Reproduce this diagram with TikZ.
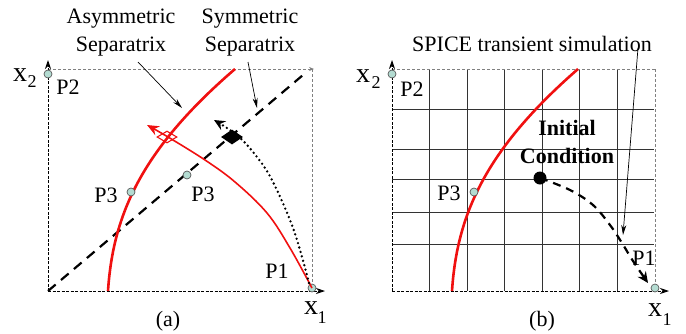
\documentclass[tikz,border=0pt]{standalone}
\usepackage{fontspec}
\setmainfont{Liberation Serif}
\usetikzlibrary{arrows.meta,shapes.geometric}
\definecolor{ptfill}{HTML}{B4DCD2}
\definecolor{sepred}{HTML}{F01010}
\begin{document}
\begin{tikzpicture}[x=1pt,y=-1pt]
\tikzset{
 lbl/.style={inner sep=0pt, font=\fontsize{22}{28}\selectfont, align=center},
 boldlbl/.style={inner sep=0pt, font=\fontsize{22}{28}\selectfont\bfseries, align=center},
 axlbl/.style={inner sep=0pt, font=\fontsize{28}{28}\selectfont},
 sublbl/.style={inner sep=0pt, font=\fontsize{18}{18}\selectfont},
 ptc/.style={circle, draw=gray!70!black, fill=ptfill, inner sep=0pt, minimum size=8pt, line width=0.7pt},
 axisline/.style={line width=0.9pt, dash pattern=on 3pt off 1.5pt, -{Stealth[length=9pt,width=6pt]}},
 borderline/.style={gray, line width=0.7pt, dash pattern=on 3pt off 2pt},
 sepcurve/.style={sepred, line width=2.6pt},
 trajcurve/.style={sepred, line width=1.6pt},
 notearrow/.style={line width=0.7pt, -{Stealth[length=10pt,width=5pt]}},
 gridline/.style={line width=1pt, black!80},
 symline/.style={line width=2.2pt, dash pattern=on 10pt off 7pt},
}
\useasboundingbox (0,0) rectangle (686,333);

% ================= panel (a) =================
\coordinate (oa) at (48,291);
\coordinate (ya) at (48,60);
\coordinate (xa) at (325,291);
\coordinate (tla) at (48,69);
\coordinate (tra) at (314,69);
\coordinate (cra) at (312,69);
\coordinate (bra) at (312,291);
\draw[borderline,-{Stealth[length=5pt,width=4pt]}] (tla) -- (tra);
\draw[borderline] (cra) -- (bra);
\draw[axisline] (oa) -- (ya);
\draw[axisline] (oa) -- (xa);

% symmetric separatrix (diagonal)
\coordinate (diagend) at (303,75);
\draw[symline] (oa) -- (diagend);

% asymmetric separatrix
\coordinate (asa) at (108,291);
\coordinate (asb) at (235,69);
\draw[sepcurve] (asa) .. controls (113,215) and (141,150) .. (asb);

% points
\node[ptc] (P2a) at (48,74) {};
\node[ptc] (P1a) at (312,288) {};

% red trajectory
\coordinate (redtip) at (147,125);
\draw[trajcurve,-{Stealth[length=12pt,width=10pt]}] plot[smooth, tension=0.6] coordinates {(P1a) (290,248) (267,213) (235,182) (205,160) (168,137) (redtip)};

% dotted trajectory
\coordinate (dottip) at (214,120);
\draw[line width=2.6pt, dash pattern=on 0pt off 4.6pt, line cap=round, -{Stealth[length=11pt,width=10pt]}] plot[smooth, tension=0.6] coordinates {(309,283) (300,250) (290,220) (272,180) (257,157) (238,136) (dottip)};

\node[ptc] (P3a) at (131,192) {};
\node[ptc] (P3d) at (187,175) {};

% diamonds
\node[diamond, draw=sepred, line width=1.1pt, minimum width=20pt, minimum height=12pt, inner sep=0pt] (rdia) at (167,137) {};
\node[diamond, fill=black, minimum width=22pt, minimum height=15pt, inner sep=0pt] (bdia) at (232,137) {};

% labels
\node[lbl] (asym) at (121,33) {Asymmetric\\Separatrix};
\node[lbl] (sym) at (250,33) {Symmetric\\Separatrix};
\coordinate (asymfrom) at (138,62);
\coordinate (asymto) at (182,108);
\coordinate (symfrom) at (248,62);
\coordinate (symto) at (257,108);
\draw[notearrow] (asymfrom) -- (asymto);
\draw[notearrow] (symfrom) -- (symto);

\node[lbl] (lP2a) at (68,87) {P2};
\node[lbl] (lP3a) at (106,195) {P3};
\node[lbl] (lP3d) at (203,194) {P3};
\node[lbl] (lP1a) at (277,271) {P1};
\node[axlbl] (lx2a) at (20,75) {x};
\node[sublbl] (lx2as) at (32,82) {2};
\node[axlbl] (lx1a) at (311,308) {x};
\node[sublbl] (lx1as) at (322,318) {1};
\node[lbl] (capa) at (168,321) {(a)};

% ================= panel (b) =================
\coordinate (ob) at (392,291);
\coordinate (yb) at (392,60);
\coordinate (xb) at (669,291);
\coordinate (tlb) at (392,69);
\coordinate (trb) at (655,69);
\coordinate (brb) at (655,291);

\foreach \gx in {429,467,504,542,579,617}
  \draw[gridline] (\gx,69) -- (\gx,291);
\foreach \gy in {109,149,179,212,244}
  \draw[gridline] (392,\gy) -- (654,\gy);

\draw[borderline] (tlb) -- (trb);
\draw[borderline] (trb) -- (brb);
\draw[axisline] (ob) -- (yb);
\draw[axisline] (ob) -- (xb);

\coordinate (bsa) at (452,291);
\coordinate (bsb) at (578,69);
\draw[sepcurve] (bsa) .. controls (457,215) and (485,150) .. (bsb);

\node[ptc] (P2b) at (392,74) {};
\node[ptc] (P3b) at (474,192) {};
\node[ptc] (P1b) at (655,288) {};

\node[circle, fill=black, minimum size=13pt, inner sep=0pt] (ic) at (540,178) {};
\coordinate (dashtip) at (648,283);
\draw[line width=2.2pt, dash pattern=on 8pt off 6pt, -{Stealth[length=11pt,width=10pt]}] plot[smooth, tension=0.6] coordinates {(ic) (570,190) (593,205) (610,225) (622,243) (633,261) (dashtip)};

\node[boldlbl] (icl) at (567,142) {Initial\\Condition};
\node[lbl] (spice) at (532,44) {SPICE transient simulation};
\coordinate (spicefrom) at (638,48);
\coordinate (spiceto) at (623,235);
\draw[notearrow] (spicefrom) -- (spiceto);

\node[lbl] (lP2b) at (412,89) {P2};
\node[lbl] (lP3b) at (449,193) {P3};
\node[lbl] (lP1b) at (644,258) {P1};
\node[axlbl] (lx2b) at (363,76) {x};
\node[sublbl] (lx2bs) at (376,83) {2};
\node[axlbl] (lx1b) at (655,310) {x};
\node[sublbl] (lx1bs) at (667,320) {1};
\node[lbl] (capb) at (542,321) {(b)};
\end{tikzpicture}
\end{document}
